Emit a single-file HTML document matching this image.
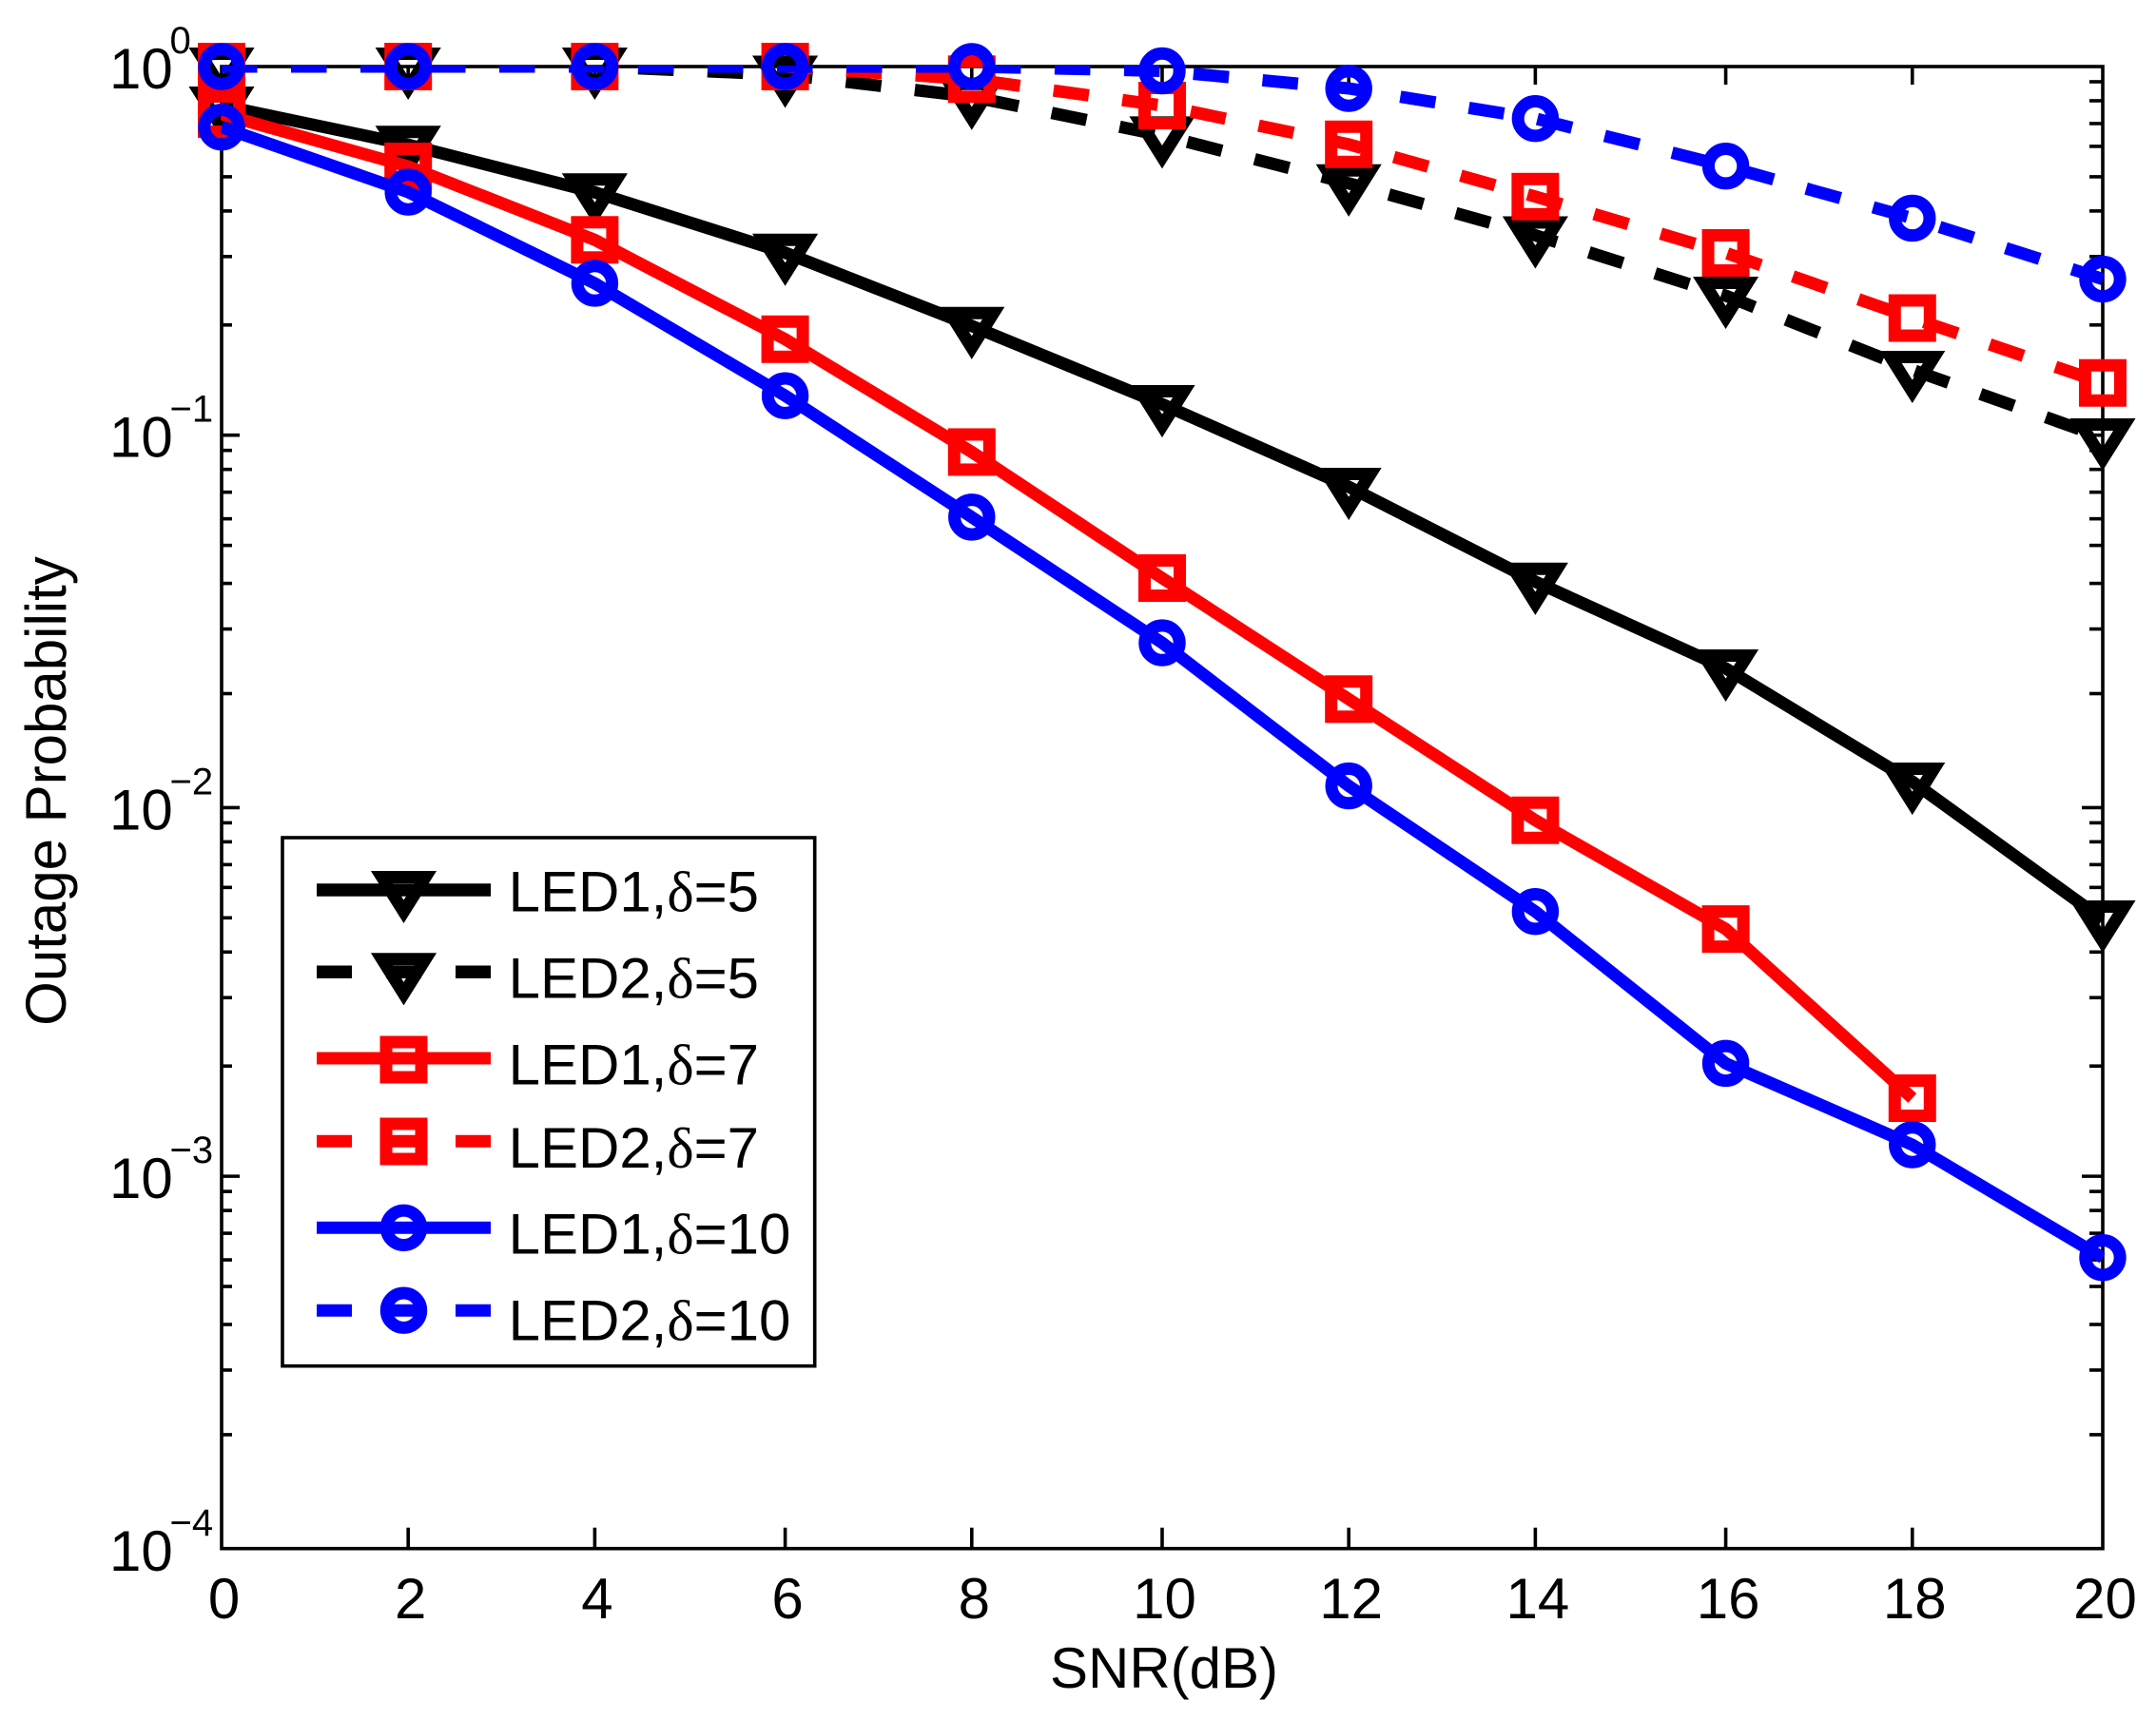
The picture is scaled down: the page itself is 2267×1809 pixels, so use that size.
<!DOCTYPE html>
<html lang="en">
<head>
<meta charset="utf-8">
<title>Outage Probability vs SNR</title>
<style>
html,body{margin:0;padding:0;background:#fff;}
svg{display:block;}
text{font-family:"Liberation Sans",Arial,sans-serif;fill:#000;}
.sym{font-family:"Liberation Serif",serif;}
</style>
</head>
<body>
<svg id="chart" xmlns="http://www.w3.org/2000/svg" width="2267" height="1809" viewBox="0 0 2267 1809">
  <defs>
    <clipPath id="plot-clip"><rect x="232" y="69" width="1981" height="1561"/></clipPath>
  </defs>
  <rect x="0" y="0" width="2267" height="1809" fill="#fff"/>
  <rect x="233" y="70" width="1978" height="1558.7" fill="none" stroke="#000" stroke-width="3.6"/>
  <g id="ticks"></g>
  <g id="ticklabels"></g>
  <text x="1224" y="1775" font-size="60" text-anchor="middle">SNR(dB)</text>
  <text transform="translate(69,832) rotate(-90)" font-size="60" text-anchor="middle">Outage Probability</text>
  <g id="series" stroke-miterlimit="10"></g>

  <g stroke-miterlimit="10">
    <rect x="297" y="881" width="559.7" height="555.7" fill="#fff" stroke="#000" stroke-width="3.6"/>

    <g>
      <path d="M333 936H516" stroke="#000" stroke-width="13.5" fill="none"/>
      <path transform="translate(424.5,936)" d="M-22.8 -13.5L22.8 -13.5L0 22.8Z" fill="none" stroke="#000" stroke-width="13"/>
      <text x="534.6" y="958.7" font-size="60">LED1,<tspan class="sym">δ</tspan>=5</text>
    </g>
    <g>
      <path d="M333 1022.3H516" stroke="#000" stroke-width="13.5" stroke-dasharray="37 36" fill="none"/>
      <path transform="translate(424.5,1022.3)" d="M-22.8 -13.5L22.8 -13.5L0 22.8Z" fill="none" stroke="#000" stroke-width="13"/>
      <text x="534.6" y="1049.4" font-size="60">LED2,<tspan class="sym">δ</tspan>=5</text>
    </g>
    <g>
      <path d="M333 1113H516" stroke="#f00" stroke-width="13" fill="none"/>
      <rect x="406" y="1096" width="37" height="37" fill="none" stroke="#f00" stroke-width="13"/>
      <text x="534.6" y="1140.5" font-size="60">LED1,<tspan class="sym">δ</tspan>=7</text>
    </g>
    <g>
      <path d="M333 1200.2H516" stroke="#f00" stroke-width="13" stroke-dasharray="37 36" fill="none"/>
      <rect x="406" y="1182" width="37" height="37" fill="none" stroke="#f00" stroke-width="13"/>
      <text x="534.6" y="1227.8" font-size="60">LED2,<tspan class="sym">δ</tspan>=7</text>
    </g>
    <g>
      <path d="M333 1291.3H516" stroke="#00f" stroke-width="13" fill="none"/>
      <circle cx="424.5" cy="1291.3" r="18.2" fill="none" stroke="#00f" stroke-width="13"/>
      <text x="534.6" y="1318.5" font-size="60">LED1,<tspan class="sym">δ</tspan>=10</text>
    </g>
    <g>
      <path d="M333 1378.2H516" stroke="#00f" stroke-width="13" stroke-dasharray="37 36" fill="none"/>
      <circle cx="424.5" cy="1378.2" r="18.2" fill="none" stroke="#00f" stroke-width="13"/>
      <text x="534.6" y="1409.6" font-size="60">LED2,<tspan class="sym">δ</tspan>=10</text>
    </g>
  </g>
</svg>
<script>
// ---- chart data ----
const snrValues = [0, 2, 4, 6, 8, 10, 12, 14, 16, 18, 20];
const xTickLabels = ['0', '2', '4', '6', '8', '10', '12', '14', '16', '18', '20'];
const yDecadeExponents = [0, -1, -2, -3, -4];
const yExponentLabels = ['0', '\u22121', '\u22122', '\u22123', '\u22124'];
const minorMultipliers = [0.9, 0.8, 0.7, 0.6, 0.5, 0.4, 0.3, 0.2];

const led1Delta5 = [0.7847, 0.6151, 0.4576, 0.3145, 0.1995, 0.1227, 0.0734, 0.0407, 0.02374, 0.01175, 0.00499];
const led2Delta5 = [1, 1, 1, 0.951, 0.829, 0.652, 0.484, 0.3503, 0.2407, 0.1518, 0.0998];
const led1Delta7 = [0.7441, 0.5377, 0.3406, 0.1837, 0.0911, 0.04163, 0.01962, 0.00924, 0.0047, 0.001643];
const led2Delta7 = [1, 1, 1, 1, 0.9244, 0.7847, 0.6168, 0.4456, 0.3141, 0.2095, 0.14];
const led1Delta10 = [0.6864, 0.4584, 0.26, 0.1293, 0.0608, 0.02784, 0.01144, 0.00524, 0.00204, 0.00123, 0.00061];
const led2Delta10 = [1, 1, 1, 1, 1, 0.9738, 0.8729, 0.7238, 0.5387, 0.3897, 0.2669];

// ---- axis functions ----
const NS = 'http://www.w3.org/2000/svg';
const plotLeft = 233, plotRight = 2211, plotTop = 70, plotBottom = 1628.7;
const decadeHeight = (plotBottom - plotTop) / 4;

// the source plot snaps x positions to a coarse device grid of about 4px
function xScale(v) {
  return plotLeft + 4.004 * Math.floor(24.7 * v + 1e-6);
}
function yScale(v) {
  return plotTop - decadeHeight * Math.log10(v);
}
function yTickPos(v) {
  return plotTop + 3.997 * Math.floor(-97.5 * Math.log10(v) + 1e-6);
}
function make(tag, attrs, parent) {
  const el = document.createElementNS(NS, tag);
  for (const k in attrs) el.setAttribute(k, attrs[k]);
  parent.appendChild(el);
  return el;
}

// ---- ticks ----
const ticksG = document.getElementById('ticks');
const labelsG = document.getElementById('ticklabels');
const tickStyle = {stroke: '#000', 'stroke-width': 3.6};

snrValues.forEach(function (v, i) {
  const x = xScale(v);
  if (i > 0 && i < snrValues.length - 1) {
    const bottomTick = make('line', Object.assign({x1: x, x2: x, y1: plotBottom, y2: plotBottom - 22}, tickStyle), ticksG);
    
    
    const topTick = make('line', Object.assign({x1: x, x2: x, y1: plotTop, y2: plotTop + 19}, tickStyle), ticksG);
    
    
  }
  const label = make('text', {x: x + 2.5, y: 1702, 'font-size': 60, 'text-anchor': 'middle'}, labelsG);
  label.textContent = xTickLabels[i];
  
  
});

yDecadeExponents.forEach(function (e, i) {
  const base = Math.pow(10, e);
  const y = yTickPos(base);
  if (i > 0 && i < yDecadeExponents.length - 1) {
    const leftMajor = make('line', Object.assign({x1: plotLeft, x2: plotLeft + 19, y1: y, y2: y}, tickStyle), ticksG);
    
    
    const rightMajor = make('line', Object.assign({x1: plotRight, x2: plotRight - 22, y1: y, y2: y}, tickStyle), ticksG);
    
    
  }
  if (i < yDecadeExponents.length - 1) {
    minorMultipliers.forEach(function (m) {
      const ym = yTickPos(base * m);
      const leftMinor = make('line', Object.assign({x1: plotLeft, x2: plotLeft + 11, y1: ym, y2: ym}, tickStyle), ticksG);
      
      
      const rightMinor = make('line', Object.assign({x1: plotRight, x2: plotRight - 14, y1: ym, y2: ym}, tickStyle), ticksG);
      
      
    });
  }
  const baseLabel = make('text', {x: 115, y: y + 23, 'font-size': 60}, labelsG);
  baseLabel.textContent = '10';
  
  
  const expLabel = make('text', {x: 178.5, y: y - 14, 'font-size': 40}, labelsG);
  expLabel.textContent = yExponentLabels[i];
  
  
});

// ---- series ----
const seriesG = document.getElementById('series');

function drawMarker(kind, color, x, y, parent) {
  if (kind === 'triangle') {
    return make('path', {transform: 'translate(' + x + ',' + y + ')', d: 'M-22.8 -13.5L22.8 -13.5L0 22.8Z', fill: 'none', stroke: color, 'stroke-width': 13}, parent);
  }
  if (kind === 'square') {
    return make('rect', {x: x - 18.5, y: y - 18.5, width: 37, height: 37, fill: 'none', stroke: color, 'stroke-width': 13}, parent);
  }
  return make('circle', {cx: x, cy: y, r: 18.2, fill: 'none', stroke: color, 'stroke-width': 13}, parent);
}

function drawSeries(values, color, kind, dashed, name) {
  const group = make('g', {}, seriesG);
  
  
  const points = values.map(function (v, i) {
    return xScale(snrValues[i]).toFixed(1) + ',' + yScale(v).toFixed(1);
  }).join(' ');
  const attrs = {points: points, fill: 'none', stroke: color, 'stroke-width': 13, 'clip-path': 'url(#plot-clip)'};
  if (dashed) attrs['stroke-dasharray'] = '37.5 35.5';
  const line = make('polyline', attrs, group);
  
  
  values.forEach(function (v, i) {
    const marker = drawMarker(kind, color, xScale(snrValues[i]), yScale(v), group);
    
    
  });
}

drawSeries(led1Delta5, '#000', 'triangle', false, 'series-led1-delta5');
drawSeries(led2Delta5, '#000', 'triangle', true, 'series-led2-delta5');
drawSeries(led1Delta7, '#f00', 'square', false, 'series-led1-delta7');
drawSeries(led2Delta7, '#f00', 'square', true, 'series-led2-delta7');
drawSeries(led1Delta10, '#00f', 'circle', false, 'series-led1-delta10');
drawSeries(led2Delta10, '#00f', 'circle', true, 'series-led2-delta10');
</script>
</body>
</html>
